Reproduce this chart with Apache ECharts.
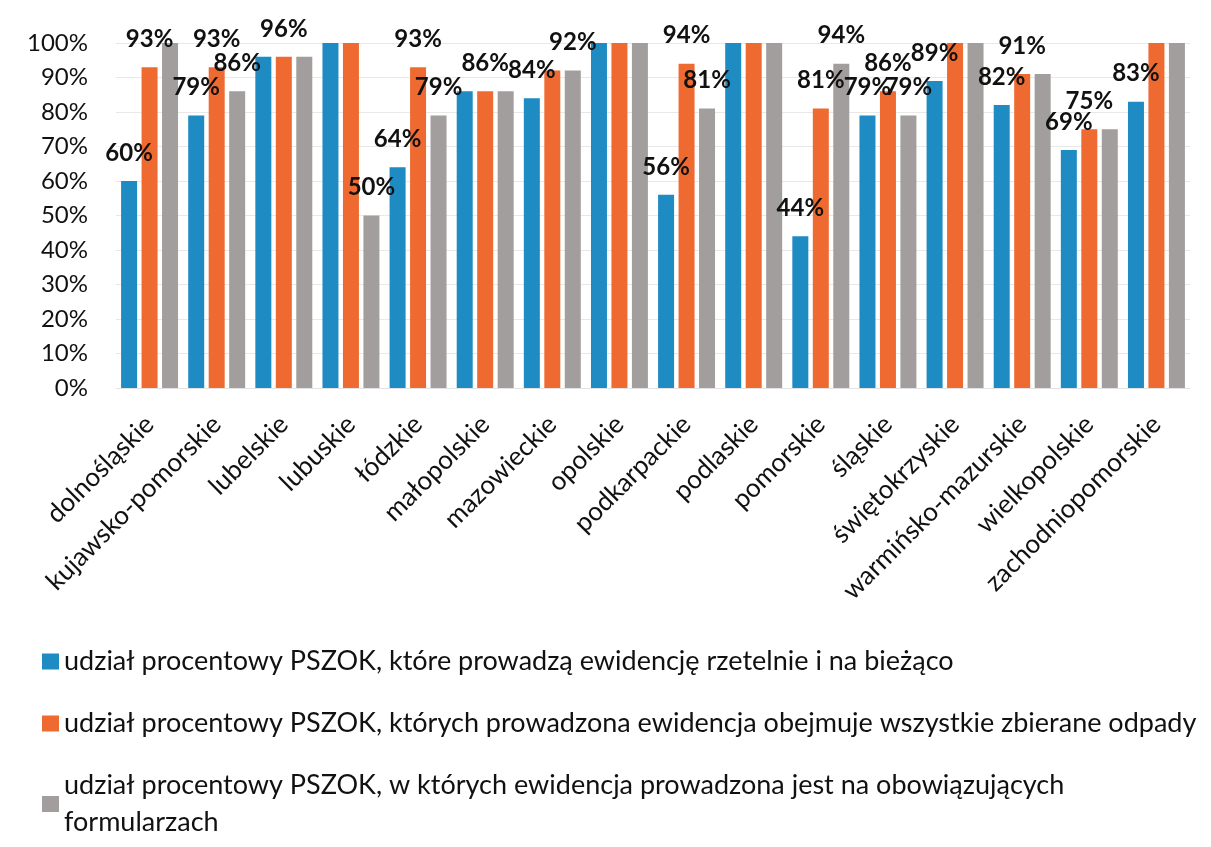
<!DOCTYPE html>
<html>
<head>
<meta charset="utf-8">
<title>PSZOK</title>
<script src="https://cdn.jsdelivr.net/npm/echarts@6/dist/echarts.min.js"></script>
<style>
  html, body { margin: 0; padding: 0; background: #fff; }
  #chart { width: 1211px; height: 847px; }
</style>
</head>
<body>
<div id="chart"></div>
<script>
// voivodeships
const regions = [
  "dolnośląskie", "kujawsko-pomorskie", "lubelskie", "lubuskie", "łódzkie",
  "małopolskie", "mazowieckie", "opolskie", "podkarpackie", "podlaskie",
  "pomorskie", "śląskie", "świętokrzyskie", "warmińsko-mazurskie",
  "wielkopolskie", "zachodniopomorskie"
];

const seriesNames = [
  "udział procentowy PSZOK, które prowadzą ewidencję rzetelnie i na bieżąco",
  "udział procentowy PSZOK, których prowadzona ewidencja obejmuje wszystkie zbierane odpady",
  "udział procentowy PSZOK, w których ewidencja prowadzona jest na obowiązujących formularzach"
];

// values in %
const rzetelnie = [60, 79, 96, 100, 64, 86, 84, 100, 56, 100, 44, 79, 89, 82, 69, 83];
const wszystkie = [93, 93, 96, 100, 93, 86, 92, 100, 94, 100, 81, 86, 100, 91, 75, 100];
const formularze = [100, 86, 96, 50, 79, 86, 92, 100, 81, 100, 94, 79, 100, 91, 75, 100];

// which bars carry a value label (region index)
const rzetelnieLabels = [0, 1, 4, 6, 8, 10, 11, 12, 13, 14, 15];
const wszystkieLabels = [0, 1, 2, 4, 5, 8, 10, 11, 13, 14];
const formularzeLabels = [1, 3, 4, 6, 8, 10, 11];

const yTicks = [0, 10, 20, 30, 40, 50, 60, 70, 80, 90, 100];

const colors = ["#1e8bc3", "#ee6a31", "#a19e9d"];
const font = "Lato, 'Open Sans', sans-serif";

function withLabels(values, shown) {
  return values.map((v, i) => ({
    value: v,
    label: { show: shown.indexOf(i) !== -1 }
  }));
}

function barSeries(name, values, shown, color) {
  return {
    name: name,
    type: "bar",
    barWidth: 16,
    barGap: "28%",
    itemStyle: { color: color },
    label: {
      position: "top",
      distance: 16,
      formatter: "{c}%",
      color: "#111",
      fontFamily: font,
      fontWeight: "bold",
      fontSize: 24
    },
    data: withLabels(values, shown)
  };
}

const chart = echarts.init(document.getElementById("chart"));
chart.setOption({
  animation: false,
  textStyle: { fontFamily: font },
  grid: { left: 116, right: 21, top: 43, bottom: 459 },
  xAxis: {
    type: "category",
    data: regions,
    axisLine: { lineStyle: { color: "#e3e3e3" } },
    axisTick: { show: false },
    axisLabel: {
      rotate: 45,
      interval: 0,
      margin: 32,
      color: "#111",
      fontSize: 26,
      fontFamily: font
    }
  },
  yAxis: {
    type: "value",
    min: yTicks[0],
    max: yTicks[yTicks.length - 1],
    interval: 10,
    axisLine: { show: false },
    axisTick: { show: false },
    splitLine: { lineStyle: { color: "#e8e8e8" } },
    axisLabel: {
      margin: 28,
      color: "#111",
      fontSize: 24,
      fontFamily: font,
      formatter: "{value}%"
    }
  },
  legend: {
    orient: "vertical",
    left: 42,
    top: 643,
    height: 260,
    padding: 0,
    itemWidth: 17,
    itemHeight: 16,
    itemGap: 25,
    icon: "rect",
    data: seriesNames,
    formatter: function (name) {
      return name.replace(" formularzach", "\nformularzach");
    },
    textStyle: {
      color: "#111",
      fontSize: 27,
      lineHeight: 37,
      fontFamily: font
    }
  },
  series: [
    barSeries(seriesNames[0], rzetelnie, rzetelnieLabels, colors[0]),
    barSeries(seriesNames[1], wszystkie, wszystkieLabels, colors[1]),
    barSeries(seriesNames[2], formularze, formularzeLabels, colors[2])
  ]
});
</script>
</body>
</html>
